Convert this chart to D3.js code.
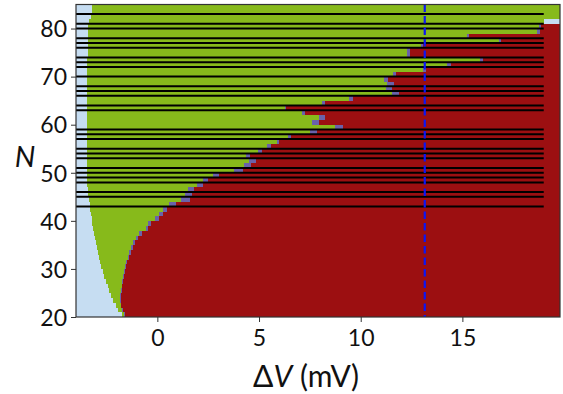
<!DOCTYPE html>
<html>
<head>
<meta charset="utf-8">
<script src="https://cdn.jsdelivr.net/npm/d3@7"></script>
<style>
  html, body { margin: 0; padding: 0; background: #fff; }
  svg { display: block; }
  text { font-family: Lato, "Open Sans", sans-serif; fill: #111; }
</style>
</head>
<body>
<svg id="chart" width="563" height="394"></svg>
<script>
// Rows of the phase map: one row per N, spanning [N, N+1].
const rowN = [20,21,22,23,24,25,26,27,28,29,30,31,32,33,34,35,36,37,38,39,
              40,41,42,43,44,45,46,47,48,49,50,51,52,53,54,55,56,57,58,59,
              60,61,62,63,64,65,66,67,68,69,70,71,72,73,74,75,76,77,78,79,
              80,81,82,83,84];

// ΔV (mV) where the light-blue region ends and the green region starts.
const blueEnd = [-1.74,-1.93,-2.05,-2.17,-2.27,-2.36,-2.45,-2.53,-2.61,-2.69,
                 -2.76,-2.82,-2.88,-2.94,-2.99,-3.03,-3.07,-3.11,-3.15,-3.19,
                 -3.23,-3.27,-3.30,-3.32,-3.35,-3.39,-3.40,-3.45,-3.45,-3.45,
                 -3.45,-3.45,-3.45,-3.45,-3.45,-3.45,-3.45,-3.45,-3.45,-3.45,
                 -3.45,-3.45,-3.45,-3.45,-3.45,-3.45,-3.45,-3.45,-3.45,-3.45,
                 -3.45,-3.45,-3.45,-3.45,-3.42,-3.42,-3.42,-3.42,-3.42,-3.42,
                 -3.42,-3.37,-3.28,-3.20,-3.20];

// ΔV where the green region ends (transition cells begin).
const greenEnd = [-1.62,-1.72,-1.80,-1.85,-1.83,-1.80,-1.76,-1.72,-1.68,-1.65,
                  -1.60,-1.55,-1.45,-1.38,-1.30,-1.18,-1.05,-0.88,-0.58,-0.45,
                  -0.13,0.08,0.30,0.58,1.18,1.38,1.50,1.95,2.26,2.75,
                  3.75,4.26,4.50,4.37,4.96,5.37,5.86,6.44,7.53,8.76,
                  7.62,7.94,7.12,6.26,8.11,9.42,11.55,11.25,11.28,11.15,
                  11.57,13.05,14.23,15.85,12.30,12.30,12.95,16.79,15.23,18.67,
                  18.75,19.0,19.0,19.0,19.0];

// ΔV where the red region starts.
const redStart = [-1.60,-1.70,-1.77,-1.80,-1.79,-1.76,-1.72,-1.68,-1.64,-1.60,
                  -1.55,-1.48,-1.38,-1.30,-1.20,-1.08,-0.95,-0.75,-0.48,-0.30,
                  0.08,0.29,0.49,0.90,1.60,1.69,1.80,2.26,2.49,3.03,
                  4.23,4.62,4.83,4.55,5.16,5.57,5.98,6.55,7.83,9.14,
                  7.94,8.22,7.24,6.35,8.22,9.63,11.90,11.55,11.63,11.33,
                  11.74,13.20,14.42,16.00,12.40,12.40,13.05,16.90,15.32,18.83,
                  18.88,19.0,19.0,19.0,19.0];

// State of the last ΔV column (19.0 to 19.8 mV), rows 20..84.
const lastCol = [].concat(
  Array(61).fill("red"),   // N = 20..80
  ["blue", "green", "green", "green"]  // N = 81..84
);

// N values marked by horizontal black lines.
const markedN = [43,45,46,48,49,50,51,53,54,55,57,58,59,63,64,66,67,68,
                 70,72,73,74,76,77,78,80,81,83];

// Reference voltage marked by the dashed line.
const markerV = 13.15;

const xTicks = [0, 5, 10, 15];
const yTicks = [20, 30, 40, 50, 60, 70, 80];

const vMin = -4, vGrid = 19.0, vMax = 19.8;
const nMin = 20, nMax = 85;

const colors = {
  blue:   "#c6ddf2",
  green:  "#87ba1b",
  purple: "#6a62aa",
  red:    "#9c0f11"
};

const margin = { left: 76, right: 3, top: 4.5, bottom: 77 };
const W = 563, H = 394;
const svg = d3.select("#chart");

const x = d3.scaleLinear().domain([vMin, vMax]).range([margin.left, W - margin.right]);
const y = d3.scaleLinear().domain([nMin, nMax]).range([H - margin.bottom, margin.top]);

// Build the cell segments for every row.
const segs = [];
rowN.forEach((n, i) => {
  segs.push({ n, x0: vMin, x1: blueEnd[i], c: "blue" });
  segs.push({ n, x0: blueEnd[i], x1: greenEnd[i], c: "green" });
  if (redStart[i] > greenEnd[i]) segs.push({ n, x0: greenEnd[i], x1: redStart[i], c: "purple" });
  if (vGrid > redStart[i]) segs.push({ n, x0: redStart[i], x1: vGrid, c: "red" });
  segs.push({ n, x0: vGrid, x1: vMax, c: lastCol[i] });
});

const map = svg.append("g");
map.selectAll("rect")
  .data(segs)
  .join("rect")
  .attr("x", d => x(d.x0))
  .attr("width", d => Math.max(0, x(d.x1) - x(d.x0)))
  .attr("y", d => y(d.n + 1))
  .attr("height", d => y(d.n) - y(d.n + 1) + 0.3)
  .attr("fill", d => colors[d.c])
  .attr("shape-rendering", "crispEdges");

// Horizontal black lines.
svg.append("g").selectAll("line")
  .data(markedN)
  .join("line")
  .attr("x1", x(vMin))
  .attr("x2", x(vGrid))
  .attr("y1", d => y(d))
  .attr("y2", d => y(d))
  .attr("stroke", "#000")
  .attr("stroke-width", 2);

// Dashed marker line.
svg.append("line")
  .attr("x1", x(markerV)).attr("x2", x(markerV))
  .attr("y1", y(nMax)).attr("y2", y(nMin))
  .attr("stroke", "#0b16f5")
  .attr("stroke-width", 2.2)
  .attr("stroke-dasharray", "7.5,4");

// Axes.
const xAxis = d3.axisBottom(x).tickValues(xTicks).tickSize(5).tickPadding(8);
const yAxis = d3.axisLeft(y).tickValues(yTicks).tickSize(5).tickPadding(4);

const gx = svg.append("g").attr("transform", `translate(0,${H - margin.bottom})`).call(xAxis);
const gy = svg.append("g").attr("transform", `translate(${margin.left},0)`).call(yAxis);

[gx, gy].forEach(g => {
  g.select(".domain").remove();
  g.selectAll(".tick line").attr("stroke", "#333").attr("stroke-width", 1);
  g.selectAll(".tick text")
    .attr("font-family", "Lato, 'Open Sans', sans-serif")
    .attr("font-size", 23)
    .attr("fill", "#111");
});
gy.selectAll(".tick text").attr("dy", "0.36em");

// Frame around the map.
svg.append("rect")
  .attr("x", x(vMin)).attr("y", y(nMax))
  .attr("width", x(vMax) - x(vMin))
  .attr("height", y(nMin) - y(nMax))
  .attr("fill", "none")
  .attr("stroke", "#333")
  .attr("stroke-width", 1.2);

// Axis titles.
const xt = svg.append("text")
  .attr("x", 306).attr("y", 387)
  .attr("text-anchor", "middle")
  .attr("font-size", 30);
xt.append("tspan").text("Δ");
xt.append("tspan").attr("font-style", "italic").text("V");
xt.append("tspan").text(" (mV)");

svg.append("text")
  .attr("x", 25).attr("y", 167)
  .attr("text-anchor", "middle")
  .attr("font-size", 29)
  .attr("font-style", "italic")
  .text("N");
</script>
</body>
</html>
